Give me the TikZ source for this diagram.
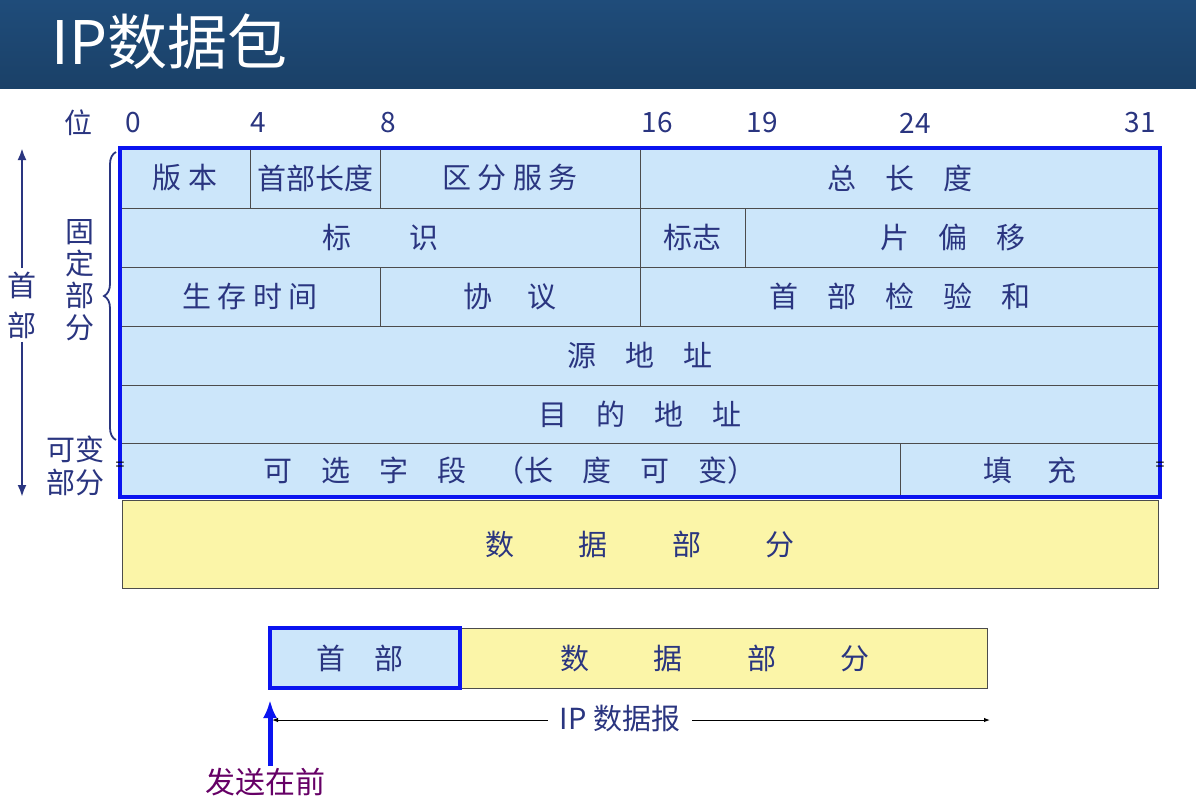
\documentclass[tikz,border=0pt]{standalone}
\usepackage{fontspec}
\setmainfont{Noto Sans CJK SC}
\usetikzlibrary{decorations.pathreplacing,arrows.meta}
\definecolor{tx}{HTML}{2A3580}
\definecolor{lb}{HTML}{CCE6FA}
\definecolor{yl}{HTML}{FBF5A8}
\definecolor{hd}{HTML}{1F4C7A}
\definecolor{bb}{HTML}{0A14F0}
\tikzset{fld/.style={draw=black!70,line width=0.8pt,fill=lb},
 lbl/.style={text=tx,font=\fontsize{29}{32}\selectfont},
 bit/.style={text=tx,font=\fontsize{28}{30}\selectfont},
 thick box/.style={draw=bb,line width=4.5pt}}
\begin{document}
\begin{tikzpicture}[x=1pt,y=-1pt]
\useasboundingbox (0,0) rectangle (1196,804);
\fill[white] (0,0) rectangle (1196,804);
\shade[top color=hd,bottom color=hd!85!black] (0,0) rectangle (1196,88);
\node[anchor=west,text=white,font=\fontsize{60}{64}\selectfont] (title) at (48,42) {IP数据包};
% bit labels
\node[bit] (w) at (78,123) {位};
\foreach \n/\x in {0/133,4/258,8/388,16/657,19/762,24/915,31/1140}
  \node[bit] (b\n) at (\x,123) {\n};
% fields
\foreach \a/\b/\c/\d/\t/\nm in {
 120/250/148/208/{版 本}/f1, 250/380/148/208/{首部长度}/f2, 380/640/148/208/{区 分 服 务}/f3, 640/1160/148/208/{总　长　度}/f4,
 120/640/208/267/{标　　识}/f5, 640/745/208/267/{标志}/f6, 745/1160/208/267/{片　偏　移}/f7,
 120/380/267/326/{生 存 时 间}/f8, 380/640/267/326/{协　 议}/f9, 640/1160/267/326/{首　部　检　验　和}/f10,
 120/1160/326/385/{源　地　址}/f11, 120/1160/385/443/{目　的　地　址}/f12,
 120/900/443/497/{可　选　字　段　（长　度　可　变）}/f13, 900/1160/443/497/{填　 充}/f14}
 {\draw[fld] (\a,\c) rectangle (\b,\d);
  \node[lbl] (\nm) at ({(\a+\b)/2},{(\c+\d)/2}) {\t};}
\draw[thick box] (120,148) rectangle (1160,497);
\draw[draw=black!70,fill=yl,line width=0.8pt] (122,500) rectangle (1158,588);
\node[lbl] (data) at (640,544) {数　　 据　　 部　　 分};
\node[font=\fontsize{16}{16}\selectfont] (eq1) at (120,466) {=};
\node[font=\fontsize{16}{16}\selectfont] (eq2) at (1160,466) {=};
% left annotations
\node[lbl,align=center,font=\fontsize{29}{40}\selectfont] (sb) at (22,305) {首\\部};
\coordinate (st) at (22,148);
\coordinate (sbt) at (22,497);
\draw[-{Latex[length=12pt]},line width=2.5pt,draw=tx] (sb.north) -- (st);
\draw[-{Latex[length=12pt]},line width=2.5pt,draw=tx] (sb.south) -- (sbt);
\node[lbl,align=center,font=\fontsize{29}{32}\selectfont] (gd) at (80,280) {固\\定\\部\\分};
\draw[draw=tx,line width=1.8pt,decorate,decoration={brace,amplitude=12pt}] (116,440) -- (116,152);
\node[lbl,align=center,font=\fontsize{29}{33}\selectfont] (kb) at (75,466) {可变\\部分};
% bottom
\draw[fill=yl,draw=black!70,line width=0.8pt] (460,628) rectangle (987,688);
\node[lbl] (d2) at (715,658) {数　　 据　　 部　　 分};
\draw[fill=lb,thick box,line width=3.5pt] (270,628) rectangle (460,688);
\node[lbl] (h2) at (360,658) {首　部};
\node[lbl,inner xsep=12pt] (ipd) at (620,718) {IP 数据报};
\coordinate (la) at (272,720);
\coordinate (ra) at (990,720);
\draw[-{Latex[length=6pt]},line width=1pt] (ipd.west|-la) -- (la);
\draw[-{Latex[length=6pt]},line width=1pt] (ipd.east|-ra) -- (ra);
\node[text=violet!80!black,font=\fontsize{30}{32}\selectfont] (fs) at (265,782) {发送在前};
\coordinate (at) at (270,700);
\draw[-{Latex[length=18pt,width=14pt]},line width=5pt,draw=bb] (270,766) -- (at);
\end{tikzpicture}
\end{document}
